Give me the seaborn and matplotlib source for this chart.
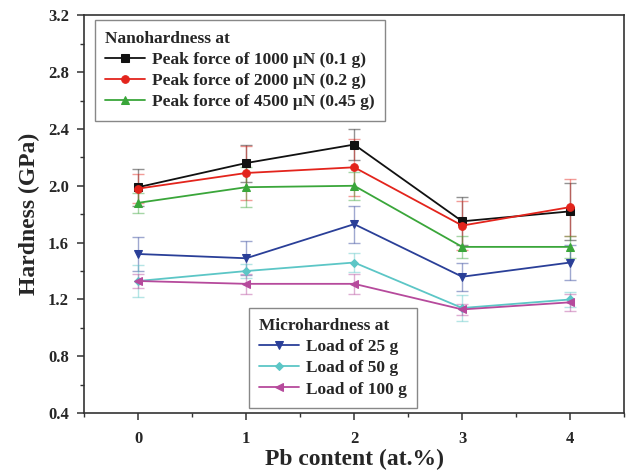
import matplotlib
matplotlib.use("Agg")
import matplotlib.pyplot as plt
import seaborn as sns
import pandas as pd
from matplotlib.ticker import MultipleLocator

pb_content = [0, 1, 2, 3, 4]

nano_labels = ["Peak force of 1000 \u03bcN (0.1 g)",
               "Peak force of 2000 \u03bcN (0.2 g)",
               "Peak force of 4500 \u03bcN (0.45 g)"]
micro_labels = ["Load of 25 g", "Load of 50 g", "Load of 100 g"]

nano_1000 = [1.99, 2.16, 2.29, 1.75, 1.82]
nano_1000_err = [0.13, 0.13, 0.11, 0.17, 0.20]
nano_2000 = [1.98, 2.09, 2.13, 1.72, 1.85]
nano_2000_err = [0.10, 0.19, 0.20, 0.17, 0.20]
nano_4500 = [1.88, 1.99, 2.00, 1.57, 1.57]
nano_4500_err = [0.07, 0.14, 0.10, 0.08, 0.08]

micro_25 = [1.52, 1.49, 1.73, 1.36, 1.46]
micro_25_err = [0.12, 0.12, 0.13, 0.10, 0.12]
micro_50 = [1.33, 1.40, 1.46, 1.14, 1.20]
micro_50_err = [0.11, 0.05, 0.07, 0.09, 0.05]
micro_100 = [1.33, 1.31, 1.31, 1.13, 1.18]
micro_100_err = [0.05, 0.07, 0.07, 0.04, 0.06]

sns.set_style("white")
plt.rcParams['font.family'] = ['Liberation Serif', 'DejaVu Serif']
plt.rcParams['font.weight'] = 'bold'

fig = plt.figure(figsize=(6.28, 4.76), dpi=100)
ax = fig.add_axes([0.134, 0.132, 0.86, 0.836])

nano = [(nano_1000, nano_1000_err, "#111111", "s"),
        (nano_2000, nano_2000_err, "#e3241c", "o"),
        (nano_4500, nano_4500_err, "#3aa63a", "^")]
micro = [(micro_25, micro_25_err, "#2a3f98", "v"),
         (micro_50, micro_50_err, "#5cc6c6", "D"),
         (micro_100, micro_100_err, "#b64a9c", "<")]

def draw(series, labels):
    handles = []
    for (vals, err, col, mk), lab in zip(series, labels):
        ax.errorbar(pb_content, vals, yerr=err, fmt='none', ecolor=col,
                    alpha=0.45, capsize=4, elinewidth=1.0, capthick=1.0, zorder=2)
        df = pd.DataFrame({"x": pb_content, "y": vals})
        ms = 4.5 if mk == "D" else 5.5
        sns.lineplot(data=df, x="x", y="y", ax=ax, color=col, marker=mk,
                     markersize=ms, markeredgecolor=col, linewidth=1.3,
                     label=lab, zorder=3)
        handles.append(ax.lines[-1])
    return handles

h_nano = draw(nano, nano_labels)
h_micro = draw(micro, micro_labels)

leg_kw = dict(frameon=True, fancybox=False, framealpha=1, edgecolor="#888888",
              prop={'size': 12.5, 'weight': 'bold'}, alignment='left',
              handlelength=2.3, handletextpad=0.4, borderpad=0.6, labelspacing=0.29)
leg1 = ax.legend(h_nano, nano_labels, title="Nanohardness at", loc="upper left",
                 bbox_to_anchor=(0.01, 1.0), borderaxespad=0.3,
                 title_fontproperties={'size': 12.5, 'weight': 'bold'},
                 **leg_kw)
leg1.get_frame().set_linewidth(1.0)
ax.add_artist(leg1)
leg2 = ax.legend(h_micro, micro_labels, title="Microhardness at", loc="lower left",
                 bbox_to_anchor=(0.295, 0.0), borderaxespad=0.3,
                 title_fontproperties={'size': 12.5, 'weight': 'bold'},
                 **leg_kw)
leg2.get_frame().set_linewidth(1.0)

ax.set_xlim(-0.5, 4.5)
ax.set_ylim(0.4, 3.2)
ax.xaxis.set_major_locator(MultipleLocator(1))
ax.xaxis.set_minor_locator(MultipleLocator(0.5))
ax.yaxis.set_major_locator(MultipleLocator(0.4))
ax.yaxis.set_minor_locator(MultipleLocator(0.2))
ax.yaxis.set_major_formatter(matplotlib.ticker.FormatStrFormatter('%.1f'))

ax.tick_params(axis='both', which='major', direction='out', length=5, width=1.1,
               labelsize=12, color="#333333", bottom=True, left=True)
ax.tick_params(axis='x', which='major', pad=8)
ax.tick_params(axis='y', which='major', pad=6)
ax.tick_params(axis='both', which='minor', direction='out', length=3, width=1.0,
               color="#333333", bottom=True, left=True)
for lab in ax.get_xticklabels() + ax.get_yticklabels():
    lab.set_fontweight('bold')
for sp in ax.spines.values():
    sp.set_color("#333333")
    sp.set_linewidth(1.2)

ax.set_xlabel("Pb content (at.%)", fontsize=17, fontweight='bold', labelpad=1)
ax.set_ylabel("Hardness (GPa)", fontsize=17, fontweight='bold', labelpad=6)

fig.savefig("out.png", dpi=100)
